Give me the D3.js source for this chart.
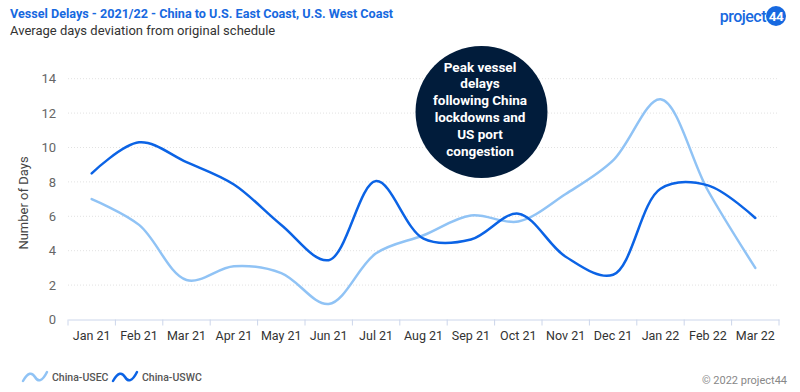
<!DOCTYPE html>
<html><head><meta charset="utf-8">
<script src="https://cdn.jsdelivr.net/npm/d3@7"></script>
<style>body{margin:0;background:#fff;}svg{display:block;font-family:Roboto,"Noto Sans",sans-serif;}</style>
</head><body><svg id="c" width="800" height="392"></svg>
<script>
const months = ["Jan 21","Feb 21","Mar 21","Apr 21","May 21","Jun 21","Jul 21","Aug 21","Sep 21","Oct 21","Nov 21","Dec 21","Jan 22","Feb 22","Mar 22"];
const usec = [7.0, 5.5, 2.3, 3.1, 2.7, 0.9, 3.85, 4.9, 6.05, 5.7, 7.3, 9.25, 12.8, 7.5, 3.0];
const uswc = [8.5, 10.3, 9.15, 7.85, 5.5, 3.45, 8.05, 4.7, 4.65, 6.15, 3.65, 2.6, 7.6, 7.8, 5.9];
const yTicks = [0,2,4,6,8,10,12,14];
const seriesNames = ["China-USEC","China-USWC"];
const colors = ["#90c3f5","#0b63e5"];

const svg = d3.select("#c");
const x = d3.scaleBand().domain(months).range([68,779]);
const y = d3.scaleLinear().domain([0,14]).range([319.5,78.7]);

// title
svg.append("text").attr("x",10).attr("y",18).attr("font-size",12.6).attr("font-weight",700).attr("fill","#1769e0")
  .text("Vessel Delays - 2021/22 - China to U.S. East Coast, U.S. West Coast");
svg.append("text").attr("x",10).attr("y",35).attr("font-size",13).attr("fill","#333")
  .text("Average days deviation from original schedule");

// logo
const logo = svg.append("g");
logo.append("text").attr("x",766).attr("y",21.5).attr("text-anchor","end").attr("font-size",16).attr("font-weight",500)
  .attr("fill","#1769e0").attr("letter-spacing","-0.5").text("project");
logo.append("circle").attr("cx",776).attr("cy",16).attr("r",10).attr("fill","#1769e0");
logo.append("text").attr("x",776).attr("y",21).attr("text-anchor","middle").attr("font-size",13.5).attr("font-weight",700)
  .attr("fill","#fff").attr("letter-spacing","-0.5").text("44");

// grid
svg.append("g").selectAll("line").data(yTicks.filter(d=>d>0)).join("line")
  .attr("x1",68).attr("x2",779).attr("y1",d=>y(d)).attr("y2",d=>y(d))
  .attr("stroke","#e2e2e2").attr("stroke-width",1).attr("stroke-dasharray","1,2");

// y axis labels
const ya = svg.append("g").attr("transform","translate(68,0)")
  .call(d3.axisLeft(y).tickValues(yTicks).tickSize(0).tickPadding(12));
ya.select(".domain").remove();
ya.selectAll("text").attr("font-size",13).attr("fill","#666").attr("font-family","Roboto,sans-serif");

svg.append("text").attr("transform","translate(28,203) rotate(-90)").attr("text-anchor","middle")
  .attr("font-size",13).attr("fill","#444").text("Number of Days");

// x axis
const xa = svg.append("g").attr("transform","translate(0,319.5)")
  .call(d3.axisBottom(x).tickSize(0).tickPadding(12));
xa.select(".domain").attr("stroke","#ccd6eb");
xa.selectAll("text").attr("font-size",12.5).attr("fill","#333").attr("font-family","Roboto,sans-serif");
const bounds = months.map(m=>x(m)).concat([x.range()[1]]);
xa.append("g").selectAll("line").data(bounds).join("line")
  .attr("x1",d=>d).attr("x2",d=>d).attr("y1",0).attr("y2",6).attr("stroke","#ccd6eb");

// lines
const line = d3.line().x((d,i)=>x(months[i])+x.bandwidth()/2).y(d=>y(d)).curve(d3.curveCatmullRom.alpha(0.5));
[usec,uswc].forEach((s,k)=>{
  svg.append("path").attr("d",line(s)).attr("fill","none").attr("stroke",colors[k]).attr("stroke-width",2.5)
    .attr("stroke-linecap","round").attr("stroke-linejoin","round");
});

// annotation
svg.append("circle").attr("cx",481.5).attr("cy",112).attr("r",66).attr("fill","#011c3b");
const ann = ["Peak vessel","delays","following China","lockdowns and","US port","congestion"];
svg.append("g").selectAll("text").data(ann).join("text")
  .attr("x",480).attr("y",(d,i)=>71.5+i*16.8).attr("text-anchor","middle").attr("font-size",13.5).attr("font-weight",700)
  .attr("fill","#fff").text(d=>d);

// legend
const lg = svg.append("g");
const lx = [23,113];
seriesNames.forEach((n,k)=>{
  const x0 = lx[k];
  lg.append("path").attr("d",`M${x0},${381} C${x0+5},${372} ${x0+9},${372} ${x0+12},${377} S${x0+19},${382} ${x0+24},${372}`)
    .attr("fill","none").attr("stroke",colors[k]).attr("stroke-width",2.5).attr("stroke-linecap","round");
  lg.append("text").attr("x",x0+29).attr("y",380.5).attr("font-size",10.5).attr("font-weight",500).attr("fill","#555").text(n);
});

svg.append("text").attr("x",787).attr("y",384).attr("text-anchor","end").attr("font-size",11).attr("fill","#888").text("© 2022 project44");
</script></body></html>
